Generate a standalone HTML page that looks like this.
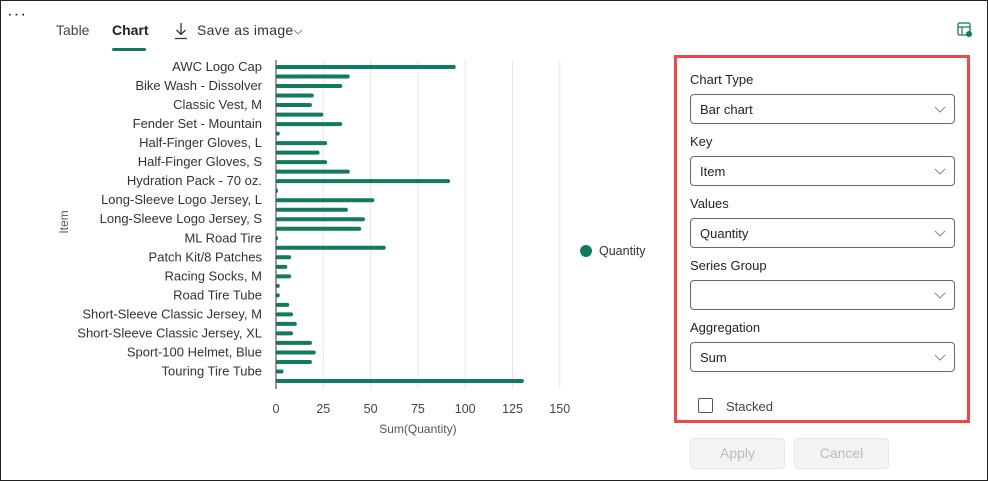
<!DOCTYPE html>
<html><head><meta charset="utf-8"><style>
body{margin:0;width:988px;height:481px;overflow:hidden;background:#fff;font-family:"Liberation Sans",sans-serif;}
#frame{position:absolute;left:0;top:0;width:986px;height:479px;border:1px solid #222;}
.a{position:absolute;}
.lbl{position:absolute;left:690px;font-size:13px;color:#222;}
.dd{position:absolute;left:690px;width:265px;height:30px;border:1px solid #666;border-radius:4px;box-sizing:border-box;font-size:13px;color:#222;line-height:30px;padding-left:9px;}
.dd svg{position:absolute;right:8px;top:11px;}
.btn{position:absolute;top:438px;width:95px;height:31px;background:#f3f3f3;border:1px solid #e6e6e6;border-radius:4px;box-sizing:border-box;color:#bbb;font-size:14px;text-align:center;line-height:29px;}
</style></head><body>
<div id="frame"></div>
<div class="a" style="left:7px;top:4px;font-size:17px;letter-spacing:1px;color:#222">···</div>
<div class="a" style="left:56px;top:22px;font-size:14px;color:#444">Table</div>
<div class="a" style="left:112px;top:22px;font-size:14px;color:#222;font-weight:bold">Chart</div>
<div class="a" style="left:112px;top:48px;width:34px;height:3px;background:#127a5e;border-radius:2px"></div>
<div class="a" style="left:174px;top:21px">
<svg width="16" height="18" style="position:absolute;left:0;top:1px"><path d="M7 1v11M2.5 8l4.5 4.5L11.5 8M1 16.5h12" stroke="#333" stroke-width="1.3" fill="none"/></svg>
<span style="position:absolute;left:23px;top:1px;font-size:14px;color:#333;white-space:nowrap;letter-spacing:0.3px">Save as image</span>
<svg width="10" height="6" style="position:absolute;left:119px;top:8px"><path d="M1 1l4 4 4-4" stroke="#888" fill="none"/></svg></div>
<svg class="a" style="left:957px;top:22px" width="16" height="16"><rect x="1" y="1" width="12" height="12" rx="1.5" fill="none" stroke="#127a5e" stroke-width="1.3"/><path d="M1 5h12M5 5v8" stroke="#127a5e" stroke-width="1.2"/><circle cx="12" cy="12" r="3" fill="#127a5e"/></svg>

<svg class="a" style="left:0;top:0" width="670" height="481" id="chart"></svg>

<div class="a" style="left:674px;top:55px;width:290px;height:362px;border:3px solid #f04848"></div>
<div class="lbl" style="top:72px">Chart Type</div>
<div class="dd" style="top:94px">Bar chart<svg width="12" height="7"><path d="M1 1l5 5 5-5" stroke="#888" fill="none"/></svg></div>
<div class="lbl" style="top:134px">Key</div>
<div class="dd" style="top:156px">Item<svg width="12" height="7"><path d="M1 1l5 5 5-5" stroke="#888" fill="none"/></svg></div>
<div class="lbl" style="top:196px">Values</div>
<div class="dd" style="top:218px">Quantity<svg width="12" height="7"><path d="M1 1l5 5 5-5" stroke="#888" fill="none"/></svg></div>
<div class="lbl" style="top:258px">Series Group</div>
<div class="dd" style="top:280px"><svg width="12" height="7"><path d="M1 1l5 5 5-5" stroke="#888" fill="none"/></svg></div>
<div class="lbl" style="top:320px">Aggregation</div>
<div class="dd" style="top:342px">Sum<svg width="12" height="7"><path d="M1 1l5 5 5-5" stroke="#888" fill="none"/></svg></div>
<div class="a" style="left:698px;top:398px;width:15px;height:15px;border:1px solid #555;border-radius:2px;box-sizing:border-box"></div>
<div class="a" style="left:726px;top:399px;font-size:13px;color:#444">Stacked</div>
<div class="btn" style="left:690px">Apply</div>
<div class="btn" style="left:794px">Cancel</div>

<script>
const items=["AWC Logo Cap","All-Purpose Bike Stand","Bike Wash - Dissolver","Cable Lock","Classic Vest, M","Classic Vest, S","Fender Set - Mountain","Full-Finger Gloves, L","Half-Finger Gloves, L","Half-Finger Gloves, M","Half-Finger Gloves, S","Hitch Rack - 4-Bike","Hydration Pack - 70 oz.","LL Road Tire","Long-Sleeve Logo Jersey, L","Long-Sleeve Logo Jersey, M","Long-Sleeve Logo Jersey, S","Long-Sleeve Logo Jersey, XL","ML Road Tire","Mountain Tire Tube","Patch Kit/8 Patches","Racing Socks, L","Racing Socks, M","Road Bottle Cage","Road Tire Tube","Short-Sleeve Classic Jersey, L","Short-Sleeve Classic Jersey, M","Short-Sleeve Classic Jersey, S","Short-Sleeve Classic Jersey, XL","Sport-100 Helmet, Black","Sport-100 Helmet, Blue","Sport-100 Helmet, Red","Touring Tire Tube","Water Bottle - 30 oz."];
const quantities=[95,39,35,20,19,25,35,2,27,23,27,39,92,1,52,38,47,45,1,58,8,6,8,2,2,7,9,11,9,19,21,19,4,131];
const xTicks=[0,25,50,75,100,125,150];
const NS="http://www.w3.org/2000/svg";
const svg=document.getElementById('chart');
const x0=276,pxPerUnit=1.892,yTop=67,step=9.515;
const xs=v=>x0+v*pxPerUnit;
const ys=i=>yTop+i*step;
function mk(t,a){const e=document.createElementNS(NS,t);for(const k in a)e.setAttribute(k,a[k]);svg.appendChild(e);return e;}
xTicks.forEach((t,i)=>{
 if(t>0){const g=mk('line',{x1:xs(t),x2:xs(t),y1:60,y2:389,stroke:'#e6e6e6','stroke-width':1});
 
 }
 const l=mk('text',{x:xs(t),y:413,'text-anchor':'middle','font-size':12.5,fill:'#444'});l.textContent=t;
 
 
});
quantities.forEach((v,i)=>{
 const r=mk('rect',{x:x0,y:ys(i)-2,width:Math.max(v*pxPerUnit,1.5),height:4,rx:2,fill:'#127a5e'});
 
 
 if(i%2===0&&i<items.length-1){const l=mk('text',{x:262,y:ys(i)+4,'text-anchor':'end','font-size':13,fill:'#333'});l.textContent=items[i];
 
 }
});
const ax=mk('line',{x1:x0,x2:x0,y1:60,y2:389,stroke:'#333','stroke-width':1});


const xt=mk('text',{x:xs(75),y:433,'text-anchor':'middle','font-size':12,fill:'#555'});xt.textContent='Sum(Quantity)';


const yt=mk('text',{x:0,y:0,'text-anchor':'middle','font-size':12,fill:'#555',transform:'translate(68,222) rotate(-90)'});yt.textContent='Item';


const lc=mk('circle',{cx:586,cy:251,r:6,fill:'#127a5e'});


const lt=mk('text',{x:599,y:255,'font-size':12.5,fill:'#333'});lt.textContent='Quantity';


</script>
</body></html>
